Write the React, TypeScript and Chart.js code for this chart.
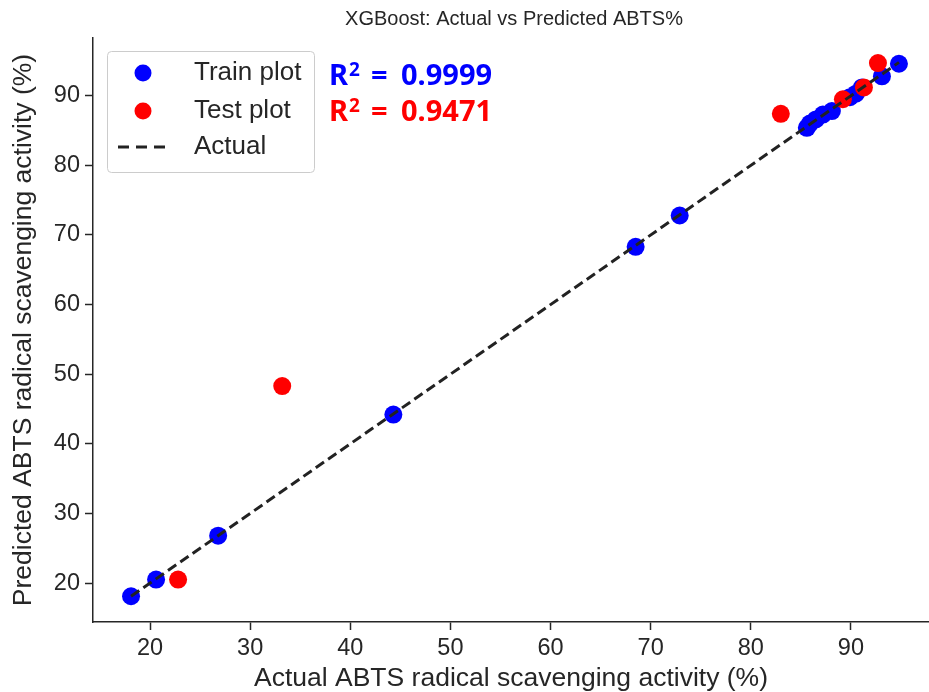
import { useEffect, useRef } from 'react';
import { Chart, registerables } from 'chart.js';
Chart.register(...registerables);

const trainActual = [18.1, 20.6, 26.8, 44.3, 68.5, 72.9, 85.6, 85.9, 86.5, 87.2, 88.1, 89.9, 90.5, 91.1, 93.1, 94.8];
const trainPredicted = [18.1, 20.5, 26.8, 44.2, 68.3, 72.8, 85.4, 86.0, 86.6, 87.3, 87.8, 89.8, 90.3, 91.2, 92.8, 94.6];
const testActual = [22.8, 33.2, 83.0, 89.2, 91.3, 92.7];
const testPredicted = [20.5, 48.3, 87.4, 89.5, 91.2, 94.7];
const idealLine = [18.1, 94.8];
const xTicks = [20, 30, 40, 50, 60, 70, 80, 90];
const yTicks = [20, 30, 40, 50, 60, 70, 80, 90];
const r2Train = '0.9999';
const r2Test = '0.9471';
const titleText = 'XGBoost: Actual vs Predicted ABTS%';
const xLabel = 'Actual ABTS radical scavenging activity (%)';
const yLabel = 'Predicted ABTS radical scavenging activity (%)';
const legendLabels = ['Train plot', 'Test plot', 'Actual'];

const TEXT = '#262626';
const BLUE = '#0000ff';
const RED = '#ff0000';
const FONT = "'Liberation Sans', Arial, sans-serif";

const overlay = {
  id: 'overlay',
  afterDraw(chart: any) {
    const ctx = chart.ctx as CanvasRenderingContext2D;
    const area = chart.chartArea;
    ctx.save();
    // title
    ctx.fillStyle = TEXT;
    ctx.font = `20px ${FONT}`;
    ctx.textAlign = 'center';
    ctx.textBaseline = 'middle';
    ctx.fillText(titleText, (area.left + area.right) / 2 + 3, 19);

    // legend box
    const bx = 107.5, by = 51.5, bw = 207, bh = 121;
    ctx.beginPath();
    ctx.roundRect(bx, by, bw, bh, 4);
    ctx.fillStyle = 'rgba(255,255,255,0.85)';
    ctx.fill();
    ctx.strokeStyle = '#cccccc';
    ctx.lineWidth = 1;
    ctx.stroke();

    const rows = [73, 111, 147];
    ctx.fillStyle = BLUE;
    ctx.beginPath();
    ctx.arc(143, rows[0], 8.5, 0, Math.PI * 2);
    ctx.fill();
    ctx.fillStyle = RED;
    ctx.beginPath();
    ctx.arc(143, rows[1], 8.5, 0, Math.PI * 2);
    ctx.fill();
    ctx.strokeStyle = '#222222';
    ctx.lineWidth = 3;
    ctx.setLineDash([11, 7]);
    ctx.beginPath();
    ctx.moveTo(118, rows[2]);
    ctx.lineTo(166, rows[2]);
    ctx.stroke();
    ctx.setLineDash([]);

    ctx.fillStyle = TEXT;
    ctx.font = `26px ${FONT}`;
    ctx.textAlign = 'left';
    ctx.textBaseline = 'middle';
    legendLabels.forEach((t, i) => ctx.fillText(t, 194, rows[i]));

    // R2 annotations
    const drawR2 = (val: string, color: string, y: number) => {
      ctx.fillStyle = color;
      ctx.textAlign = 'left';
      ctx.textBaseline = 'alphabetic';
      ctx.font = `bold 29px 'Noto Sans', sans-serif`;
      ctx.fillText('R', 329, y);
      ctx.font = `bold 19px 'Noto Sans', sans-serif`;
      ctx.fillText('2', 349, y - 9);
      ctx.font = `bold 29px 'Noto Sans', sans-serif`;
      ctx.fillText('=', 371, y);
      ctx.fillText(val, 401, y);
    };
    drawR2(r2Train, BLUE, 85);
    drawR2(r2Test, RED, 121);
    ctx.restore();
  },
};

export default function App() {
  const ref = useRef<HTMLCanvasElement | null>(null);
  useEffect(() => {
    if (!ref.current) return;
    const chart = new Chart(ref.current, {
      type: 'scatter',
      data: {
        datasets: [
          {
            type: 'line',
            label: 'Actual',
            data: idealLine.map((v) => ({ x: v, y: v })),
            borderColor: '#222222',
            borderWidth: 3,
            borderDash: [10, 5],
            pointRadius: 0,
            fill: false,
            order: 0,
          } as any,
          {
            label: 'Test plot',
            data: testActual.map((x, i) => ({ x, y: testPredicted[i] })),
            backgroundColor: RED,
            borderWidth: 0,
            pointRadius: 9,
            order: 1,
          },
          {
            label: 'Train plot',
            data: trainActual.map((x, i) => ({ x, y: trainPredicted[i] })),
            backgroundColor: BLUE,
            borderWidth: 0,
            pointRadius: 9,
            order: 2,
          },
        ],
      },
      options: {
        animation: false,
        responsive: false,
        layout: { autoPadding: false, padding: { top: 38, left: 0, right: 0, bottom: 0 } },
        plugins: { legend: { display: false }, title: { display: false }, tooltip: { enabled: false } },
        scales: {
          x: {
            type: 'linear',
            min: 14.3,
            max: 97.8,
            afterBuildTicks: (s: any) => {
              s.ticks = xTicks.map((v) => ({ value: v }));
            },
            afterFit: (s: any) => {
              s.height = 70;
            },
            grid: { drawOnChartArea: false, drawTicks: true, tickLength: 8, tickColor: TEXT, tickWidth: 1.5 },
            border: { display: true, color: TEXT, width: 1.5 },
            ticks: { font: { family: FONT, size: 23.5 }, color: TEXT, padding: 4, maxRotation: 0, autoSkip: false },
            title: { display: true, text: xLabel, color: TEXT, font: { family: FONT, size: 26.5, lineHeight: 1 }, padding: { top: 0, bottom: 0 } },
          },
          y: {
            type: 'linear',
            min: 14.4,
            max: 98.3,
            afterBuildTicks: (s: any) => {
              s.ticks = yTicks.map((v) => ({ value: v }));
            },
            afterFit: (s: any) => {
              s.width = 93;
            },
            grid: { drawOnChartArea: false, drawTicks: true, tickLength: 8, tickColor: TEXT, tickWidth: 1.5 },
            border: { display: true, color: TEXT, width: 1.5 },
            ticks: { font: { family: FONT, size: 23.5 }, color: TEXT, padding: 5, autoSkip: false },
            title: { display: true, text: yLabel, color: TEXT, font: { family: FONT, size: 26.5, lineHeight: 1 }, padding: { top: 10, bottom: 0 } },
          },
        },
      },
      plugins: [overlay],
    });
    return () => chart.destroy();
  }, []);
  return (
    <div style={{ position: 'fixed', left: 0, top: 0, width: 929, height: 692, background: '#fff' }}>
      <canvas ref={ref} width={929} height={692} style={{ display: 'block' }} />
    </div>
  );
}
